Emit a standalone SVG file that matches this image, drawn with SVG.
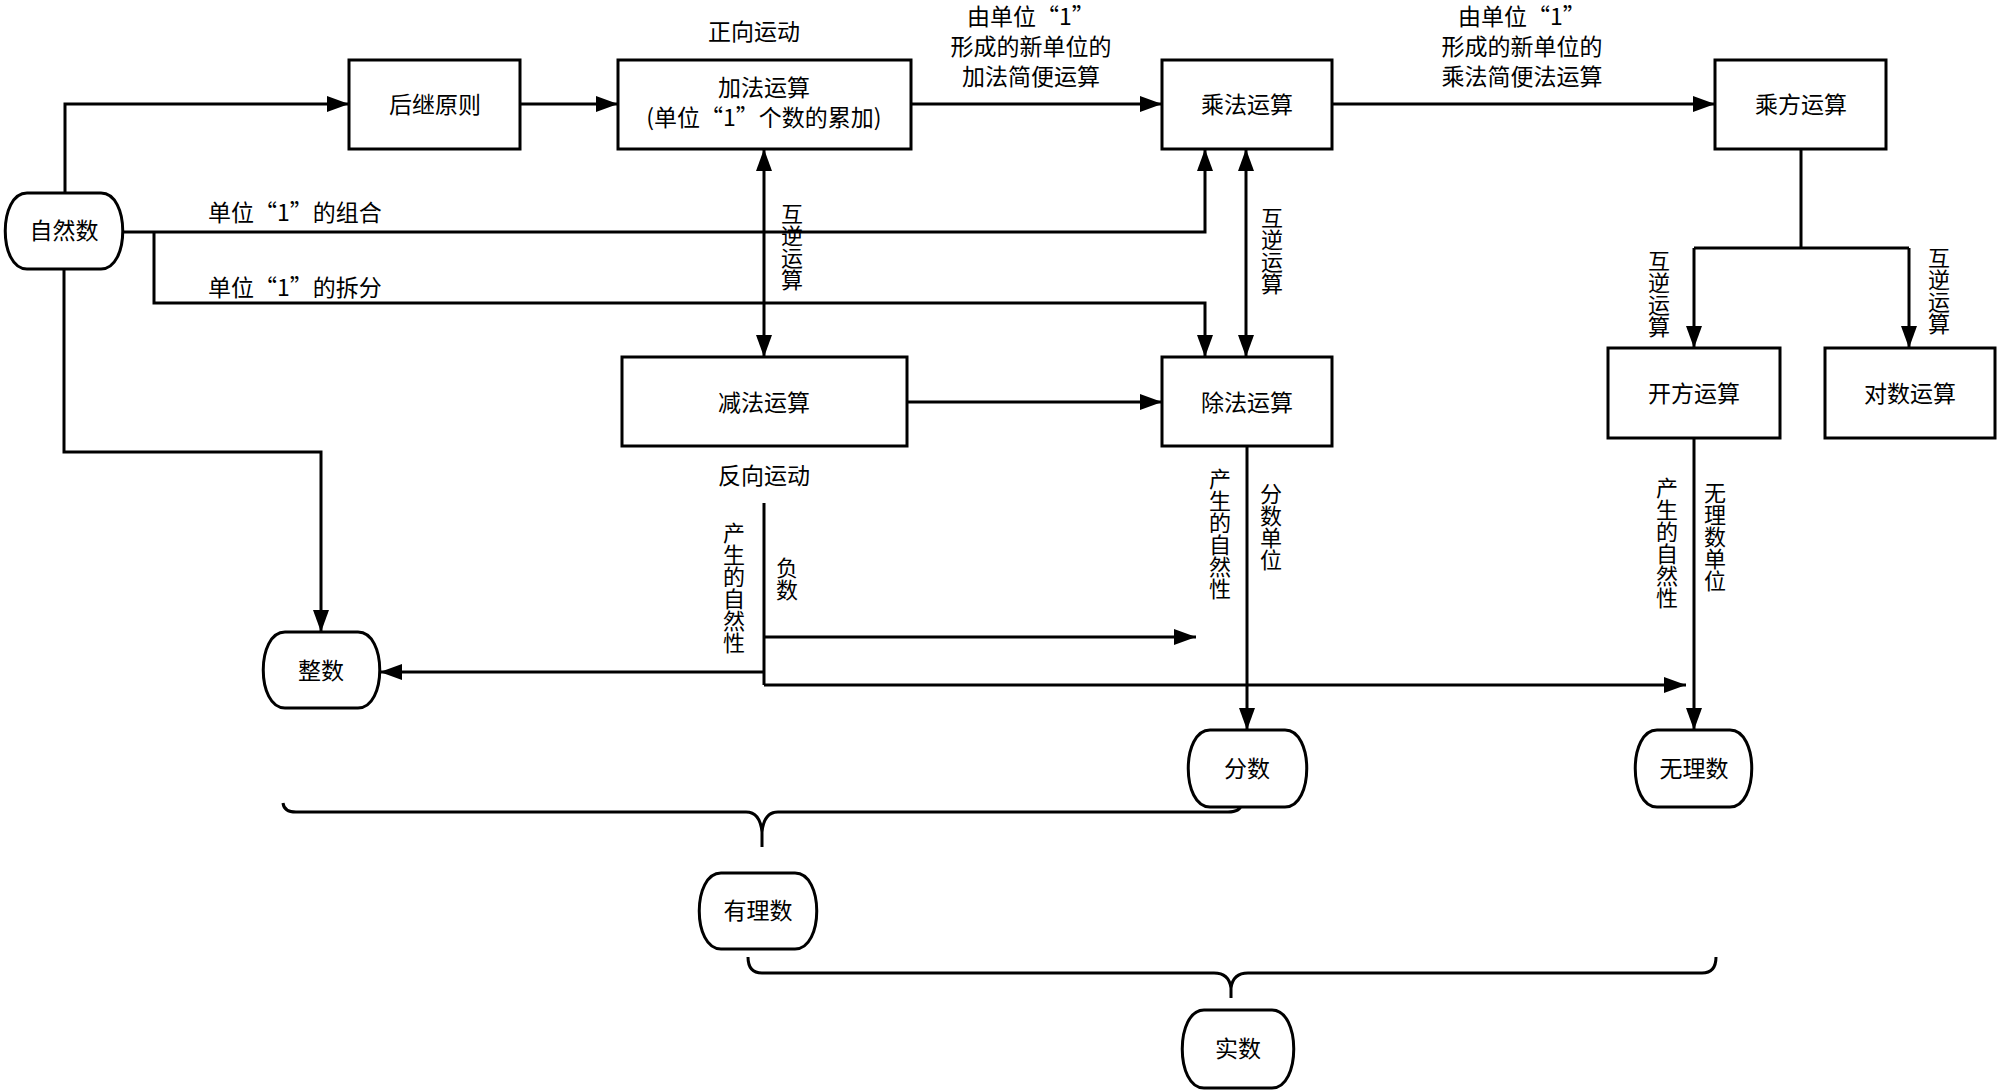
<svg xmlns="http://www.w3.org/2000/svg" width="2000" height="1090" viewBox="0 0 2000 1090">
<style>
text{font-family:"Noto Sans CJK SC","Noto Sans CJK JP",sans-serif;font-size:23px;fill:#000}
.v{font-size:22px;writing-mode:vertical-rl}
.box{fill:#fff;stroke:#000;stroke-width:3}
.ln{fill:none;stroke:#000;stroke-width:3}
</style>
<defs>
<marker id="ar" markerUnits="userSpaceOnUse" markerWidth="22" markerHeight="16" refX="22" refY="8" orient="auto-start-reverse">
<path d="M0,0 L22,8 L0,16 z" fill="#000"/>
</marker>
</defs>
<rect width="2000" height="1090" fill="#fff"/>

<g id="connectors">
<path class="ln" d="M65,193 V104 H349" marker-end="url(#ar)"/>
<path class="ln" d="M520,104 H618" marker-end="url(#ar)"/>
<path class="ln" d="M911,104 H1162" marker-end="url(#ar)"/>
<path class="ln" d="M1332,104 H1715" marker-end="url(#ar)"/>
<path class="ln" d="M123,232 H1205 V149" marker-end="url(#ar)"/>
<path class="ln" d="M154,232 V303 H1205 V357" marker-end="url(#ar)"/>
<path class="ln" d="M764,149 V357" marker-start="url(#ar)" marker-end="url(#ar)"/>
<path class="ln" d="M1246,149 V357" marker-start="url(#ar)" marker-end="url(#ar)"/>
<path class="ln" d="M1801,149 V248 M1694,248 H1909"/>
<path class="ln" d="M1694,248 V348" marker-end="url(#ar)"/>
<path class="ln" d="M1909,248 V348" marker-end="url(#ar)"/>
<path class="ln" d="M907,402 H1162" marker-end="url(#ar)"/>
<path class="ln" d="M64,269 V452 H321 V632" marker-end="url(#ar)"/>
<path class="ln" d="M764,503 V685"/>
<path class="ln" d="M764,637 H1196" marker-end="url(#ar)"/>
<path class="ln" d="M764,672 H380" marker-end="url(#ar)"/>
<path class="ln" d="M764,685 H1686" marker-end="url(#ar)"/>
<path class="ln" d="M1247,446 V730" marker-end="url(#ar)"/>
<path class="ln" d="M1694,438 V730" marker-end="url(#ar)"/>
<path class="ln" d="M283,803 Q284,812 296,812 H746 Q760,812 762,832 V847 M762,832 Q764,812 778,812 H1228 Q1240,812 1241,805"/>
<path class="ln" d="M748,957 Q748,973 762,973 H1214 Q1229,973 1231,988 V998 M1231,988 Q1233,973 1248,973 H1702 Q1716,973 1716,957"/>
</g>

<g id="labels">
<text x="754" y="40" text-anchor="middle">正向运动</text>
<text x="1031" y="25" text-anchor="middle">由单位“1”</text>
<text x="1031" y="55" text-anchor="middle">形成的新单位的</text>
<text x="1031" y="85" text-anchor="middle">加法简便运算</text>
<text x="1522" y="25" text-anchor="middle">由单位“1”</text>
<text x="1522" y="55" text-anchor="middle">形成的新单位的</text>
<text x="1522" y="85" text-anchor="middle">乘法简便法运算</text>
<text x="208" y="221">单位“1”的组合</text>
<text x="208" y="296">单位“1”的拆分</text>
<text x="764" y="484" text-anchor="middle">反向运动</text>
<text class="v" x="792" y="203">互逆运算</text>
<text class="v" x="1272" y="207">互逆运算</text>
<text class="v" x="1659" y="250">互逆运算</text>
<text class="v" x="1939" y="247">互逆运算</text>
<text class="v" x="734" y="522">产生的自然性</text>
<text class="v" x="787" y="557">负数</text>
<text class="v" x="1220" y="468">产生的自然性</text>
<text class="v" x="1271" y="483">分数单位</text>
<text class="v" x="1667" y="477">产生的自然性</text>
<text class="v" x="1715" y="482">无理数单位</text>
</g>

<g id="n-ziranshu"><path class="box" d="M27,193 H101 C130,193 130,269 101,269 H27 C-2,269 -2,193 27,193 Z"/><text x="64" y="239" text-anchor="middle">自然数</text></g>
<g id="n-houji"><rect class="box" x="349" y="60" width="171" height="89"/><text x="435" y="113" text-anchor="middle">后继原则</text></g>
<g id="n-jiafa"><rect class="box" x="618" y="60" width="293" height="89"/><text x="764" y="96" text-anchor="middle">加法运算</text><text x="764" y="126" text-anchor="middle">(单位“1”个数的累加)</text></g>
<g id="n-chengfa"><rect class="box" x="1162" y="60" width="170" height="89"/><text x="1247" y="113" text-anchor="middle">乘法运算</text></g>
<g id="n-chengfang"><rect class="box" x="1715" y="60" width="171" height="89"/><text x="1801" y="113" text-anchor="middle">乘方运算</text></g>
<g id="n-jianfa"><rect class="box" x="622" y="357" width="285" height="89"/><text x="764" y="411" text-anchor="middle">减法运算</text></g>
<g id="n-chufa"><rect class="box" x="1162" y="357" width="170" height="89"/><text x="1247" y="411" text-anchor="middle">除法运算</text></g>
<g id="n-kaifang"><rect class="box" x="1608" y="348" width="172" height="90"/><text x="1694" y="402" text-anchor="middle">开方运算</text></g>
<g id="n-duishu"><rect class="box" x="1825" y="348" width="170" height="90"/><text x="1910" y="402" text-anchor="middle">对数运算</text></g>
<g id="n-zhengshu"><path class="box" d="M285,632 H358 C387,632 387,708 358,708 H285 C256,708 256,632 285,632 Z"/><text x="321" y="679" text-anchor="middle">整数</text></g>
<g id="n-fenshu"><path class="box" d="M1210,730 H1285 C1314,730 1314,807 1285,807 H1210 C1181,807 1181,730 1210,730 Z"/><text x="1247" y="777" text-anchor="middle">分数</text></g>
<g id="n-wulishu"><path class="box" d="M1657,730 H1730 C1759,730 1759,807 1730,807 H1657 C1628,807 1628,730 1657,730 Z"/><text x="1694" y="777" text-anchor="middle">无理数</text></g>
<g id="n-youlishu"><path class="box" d="M721,873 H795 C824,873 824,949 795,949 H721 C692,949 692,873 721,873 Z"/><text x="758" y="919" text-anchor="middle">有理数</text></g>
<g id="n-shishu"><path class="box" d="M1204,1010 H1272 C1301,1010 1301,1088 1272,1088 H1204 C1175,1088 1175,1010 1204,1010 Z"/><text x="1238" y="1057" text-anchor="middle">实数</text></g>
</svg>
